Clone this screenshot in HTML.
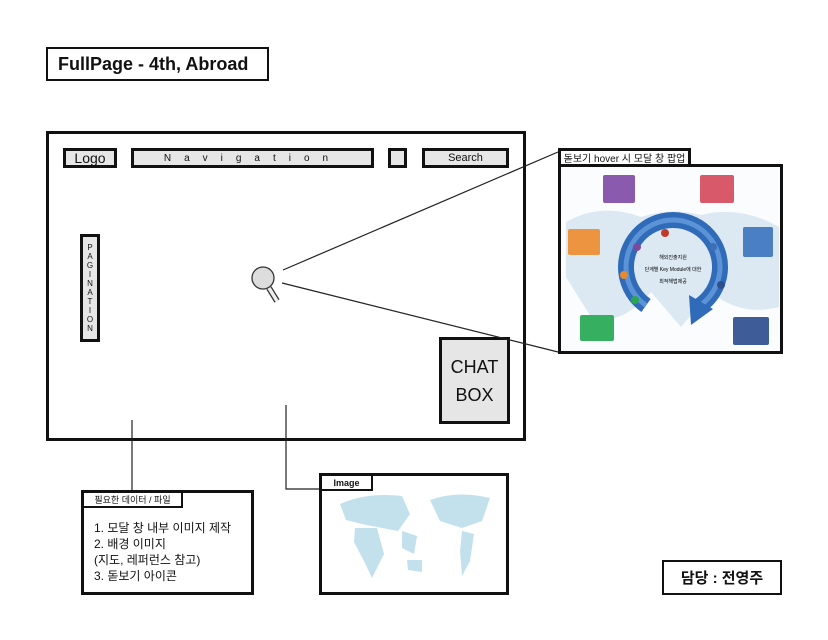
<!DOCTYPE html>
<html><head><meta charset="utf-8"><style>
body{margin:0;width:828px;height:640px;background:#fff;position:relative;overflow:hidden;font-family:"Liberation Sans","Noto Sans CJK KR",sans-serif;color:#111}
.b{position:absolute;box-sizing:border-box;border:2px solid #111}
.g{background:#e6e6e6}
.c{display:flex;align-items:center;justify-content:center}
</style></head><body>
<div class="b c" style="left:46px;top:47px;width:223px;height:34px;font-weight:bold;font-size:18px;justify-content:flex-start;padding-left:10px">FullPage - 4th, Abroad</div>
<div class="b" style="left:46px;top:131px;width:480px;height:310px;border-width:3px"></div>
<div class="b g c" style="left:63px;top:148px;width:54px;height:20px;font-size:14px;border-width:3px">Logo</div>
<div class="b g c" style="left:131px;top:148px;width:243px;height:20px;font-size:10px;letter-spacing:13px;border-width:3px">Navigation</div>
<div class="b g" style="left:388px;top:148px;width:19px;height:20px;border-width:3px"></div>
<div class="b g c" style="left:422px;top:148px;width:87px;height:20px;font-size:11px;border-width:3px">Search</div>
<div class="b g c" style="left:80px;top:234px;width:20px;height:108px;font-size:8px;flex-direction:column;line-height:9px;border-width:3px"><span>P</span><span>A</span><span>G</span><span>I</span><span>N</span><span>A</span><span>T</span><span>I</span><span>O</span><span>N</span></div>
<div class="b g c" style="left:439px;top:337px;width:71px;height:87px;font-size:18px;flex-direction:column;line-height:28px;border-width:3px"><span>CHAT</span><span>BOX</span></div>
<svg style="position:absolute;left:0;top:0" width="828" height="640">
<g stroke="#222" stroke-width="1.2" fill="none">
<line x1="283" y1="270" x2="558" y2="152"/>
<line x1="282" y1="283" x2="558" y2="352"/>
<line x1="132" y1="420" x2="132" y2="491"/>
<polyline points="286,405 286,489 320,489"/>
</g>
<circle cx="263" cy="278" r="11" fill="#ddd" stroke="#333" stroke-width="1.3"/>
<line x1="269" y1="288" x2="277" y2="301" stroke="#333" stroke-width="6"/>
<line x1="269" y1="288" x2="277" y2="301" stroke="#eee" stroke-width="3.5"/>
</svg>
<div class="b" style="left:558px;top:164px;width:225px;height:190px;border-width:3px;background:#fbfcfd;overflow:hidden">
<svg width="220" height="185" style="position:absolute;left:0;top:0">
<path d="M5 55 Q40 35 80 50 Q110 40 140 48 Q180 38 218 60 L218 140 Q180 150 150 125 L120 160 L90 125 Q60 160 30 150 L5 110Z" fill="#dce9f3"/>
<path d="M85 138.5 A47 47 0 1 1 139 138.5" fill="none" stroke="#2f6bb8" stroke-width="16"/>
<path d="M85 138.5 A47 47 0 1 1 139 138.5" fill="none" stroke="#5b93d6" stroke-width="5"/>
<path d="M128 128 L152 142 L130 158Z" fill="#2f6bb8"/>
<circle cx="76" cy="80" r="4" fill="#7b4aa0"/><circle cx="104" cy="66" r="4" fill="#c0392b"/>
<circle cx="63" cy="108" r="4" fill="#e68a2e"/><circle cx="152" cy="80" r="4" fill="#3a6fb5"/>
<circle cx="74" cy="133" r="4" fill="#2aa653"/><circle cx="160" cy="118" r="4" fill="#2f4f8f"/>
<rect x="42" y="8" width="32" height="28" rx="2" fill="#8a5aae"/>
<rect x="139" y="8" width="34" height="28" rx="2" fill="#d85a6a"/>
<rect x="7" y="62" width="32" height="26" rx="2" fill="#ec9440"/>
<rect x="182" y="60" width="30" height="30" rx="2" fill="#4a7fc4"/>
<rect x="19" y="148" width="34" height="26" rx="2" fill="#36b060"/>
<rect x="172" y="150" width="36" height="28" rx="2" fill="#3d5c98"/>
<text x="112" y="92" font-size="5" text-anchor="middle">해외진출지원</text>
<text x="112" y="104" font-size="5" text-anchor="middle">단계별 Key Module에 대한</text>
<text x="112" y="116" font-size="5" text-anchor="middle">최적해법제공</text>
</svg></div>
<div class="b c" style="left:558px;top:148px;width:133px;height:18px;font-size:10px;background:#fff;border-width:3px 3px 2px 3px">돋보기 hover 시 모달 창 팝업</div>
<div class="b" style="left:81px;top:490px;width:173px;height:105px;border-width:3px;padding:27px 0 0 10px;font-size:12px;line-height:16px">1. 모달 창 내부 이미지 제작<br>2. 배경 이미지<br>(지도, 레퍼런스 참고)<br>3. 돋보기 아이콘</div>
<div class="b c" style="left:81px;top:490px;width:102px;height:18px;font-size:9px;border-width:3px 2px 2px 3px">필요한 데이터 / 파일</div>
<div class="b" style="left:319px;top:473px;width:190px;height:122px;border-width:3px;overflow:hidden">
<svg width="185" height="118" style="position:absolute;left:0;top:0"><g fill="#c2e1ec">
<path d="M18 28 Q45 16 80 20 L88 38 L76 55 L60 52 L40 48 L24 44Z"/>
<path d="M33 52 L55 52 L62 78 L50 102 L42 85 L32 66Z"/>
<path d="M80 55 L95 60 L92 78 L80 72Z"/>
<path d="M85 84 L100 84 L100 96 L86 94Z"/>
<path d="M108 24 Q135 14 168 22 L160 45 L140 52 L118 45Z"/>
<path d="M140 55 L152 58 L148 85 L140 100 L138 75Z"/>
</g></svg></div>
<div class="b c" style="left:319px;top:473px;width:54px;height:18px;font-size:9px;font-weight:bold;background:#fff;border-width:3px 2px 2px 3px">Image</div>
<div class="b c" style="left:662px;top:560px;width:120px;height:35px;font-size:15px;font-weight:bold">담당 : 전영주</div>
</body></html>
